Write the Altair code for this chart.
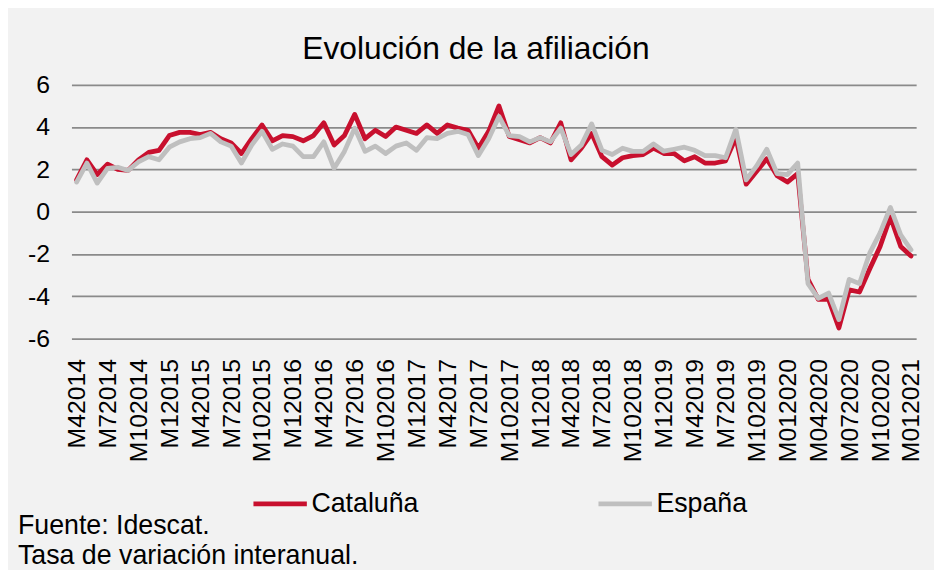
import altair as alt
import pandas as pd

# Categories: monthly, April 2014 .. January 2021
meses = []
for i in range(82):
    m = (3 + i) % 12 + 1
    y = 2014 + (3 + i) // 12
    meses.append(f"M{m:02d}{y}" if y >= 2020 else f"M{m}{y}")
etiquetas = meses[::3]

cataluna = [1.5, 2.45, 1.75, 2.25, 2.0, 1.95, 2.45, 2.8, 2.9, 3.6,
            3.75, 3.75, 3.65, 3.75, 3.45, 3.25, 2.75, 3.45, 4.1, 3.35,
            3.6, 3.55, 3.35, 3.6, 4.2, 3.15, 3.6, 4.6, 3.45, 3.85,
            3.55, 4.0, 3.85, 3.7, 4.1, 3.7, 4.1, 3.95, 3.85, 3.0,
            3.8, 5.0, 3.55, 3.4, 3.25, 3.5, 3.25, 4.2, 2.45, 3.0,
            3.7, 2.6, 2.2, 2.55, 2.65, 2.7, 3.0, 2.75, 2.75, 2.4,
            2.6, 2.3, 2.3, 2.4, 3.5, 1.3, 1.9, 2.5, 1.7, 1.4,
            1.8, -3.2, -4.15, -4.15, -5.5, -3.7, -3.8, -2.7, -1.65, -0.25,
            -1.65, -2.1]
espana = [1.4, 2.3, 1.35, 2.05, 2.1, 1.95, 2.35, 2.6, 2.45, 3.05,
          3.3, 3.45, 3.5, 3.7, 3.3, 3.1, 2.3, 3.15, 3.8, 2.95,
          3.2, 3.1, 2.6, 2.6, 3.3, 2.05, 2.85, 3.95, 2.85, 3.1,
          2.75, 3.1, 3.25, 2.9, 3.5, 3.45, 3.7, 3.8, 3.65, 2.65,
          3.45, 4.5, 3.6, 3.55, 3.3, 3.5, 3.3, 3.95, 2.7, 3.15,
          4.15, 2.9, 2.7, 3.0, 2.85, 2.85, 3.2, 2.86, 2.95, 3.05,
          2.9, 2.65, 2.65, 2.55, 3.9, 1.5, 2.15, 2.95, 1.8, 1.75,
          2.3, -3.4, -4.1, -3.85, -5.1, -3.2, -3.4, -1.95, -1.0, 0.2,
          -1.1, -1.8]

series = ["Cataluña", "España"]
colores = ["#c8102e", "#bfbfbf"]
notas = ["Fuente: Idescat.", "Tasa de variación interanual."]
titulo = "Evolución de la afiliación"

rows = []
for s, vals in zip(series, [cataluna, espana]):
    for mes, v in zip(meses, vals):
        rows.append({"mes": mes, "serie": s, "valor": v})
df = pd.DataFrame(rows)

FONT = "Liberation Sans"

lines = alt.Chart(df).mark_line(strokeWidth=4.8, strokeJoin="round", strokeCap="round").encode(
    x=alt.X("mes:O", sort=meses, title=None,
            axis=alt.Axis(values=etiquetas, labelAngle=270, labelFontSize=25,
                          labelFont=FONT, labelColor="black", labelPadding=20,
                          ticks=False, tickSize=0, domain=False, grid=False)),
    y=alt.Y("valor:Q", title=None,
            scale=alt.Scale(domain=[-6, 6], nice=False, zero=False),
            axis=alt.Axis(values=[-6, -4, -2, 0, 2, 4, 6], labelExpr="'' + datum.value",
                          labelFontSize=25, labelFont=FONT, labelColor="black",
                          labelPadding=22, ticks=False, tickSize=0, domain=False,
                          grid=True, gridColor="#8a8a8a", gridWidth=1.75)),
    color=alt.Color("serie:N", sort=series,
                    scale=alt.Scale(domain=series, range=colores),
                    legend=alt.Legend(title=None, orient="none", legendX=181, legendY=393,
                                      direction="horizontal", columns=2, columnPadding=170,
                                      symbolType="stroke", symbolSize=2900, symbolStrokeWidth=5,
                                      labelFontSize=27, labelFont=FONT, labelColor="black",
                                      labelOffset=2, padding=0)),
)

titulo_txt = alt.Chart(pd.DataFrame({"t": [titulo]})).mark_text(
    align="center", baseline="alphabetic", fontSize=32, font=FONT, color="black"
).encode(text="t:N", x=alt.value(408), y=alt.value(-26))

nota1 = alt.Chart(pd.DataFrame({"t": [notas[0]]})).mark_text(
    align="left", baseline="middle", fontSize=27, font=FONT, color="black"
).encode(text="t:N", x=alt.value(-54), y=alt.value(445))

nota2 = alt.Chart(pd.DataFrame({"t": [notas[1]]})).mark_text(
    align="left", baseline="middle", fontSize=27, font=FONT, color="black"
).encode(text="t:N", x=alt.value(-54), y=alt.value(475))

chart = alt.layer(lines, titulo_txt, nota1, nota2).properties(
    width=852, height=256,
    autosize=alt.AutoSizeParams(type="none"),
    padding={"left": 64, "top": 75, "right": 18, "bottom": 231},
    background="#f2f2f2",
).configure_view(stroke=None)

chart.save("out.html", embed_options={"renderer": "svg", "actions": False})
